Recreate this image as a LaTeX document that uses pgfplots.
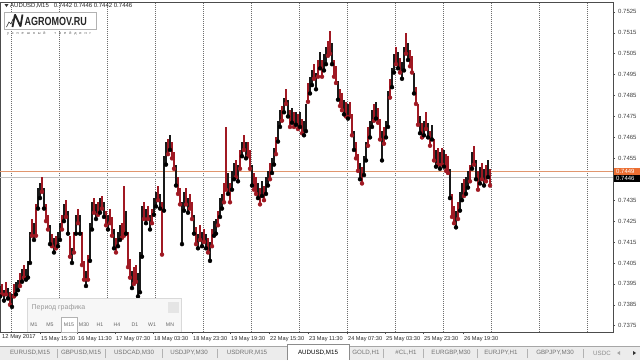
\documentclass[border=0pt]{standalone}
\usepackage{pgfplots}
\pgfplotsset{compat=1.18}
\usepackage{pgfplotstable}
\usepackage{fontspec}
\setmainfont{Liberation Sans}
\definecolor{candlered}{RGB}{160,25,35}
\definecolor{lineorange}{RGB}{225,150,110}
\definecolor{boxorange}{RGB}{235,110,50}
\definecolor{gridgray}{RGB}{110,110,110}
\definecolor{tabbg}{RGB}{236,236,236}

\pgfplotstableread{
x lo hi u
0 0.7389 0.7394 1
2 0.7390 0.7395 0
4 0.7387 0.7392 1
6 0.7390 0.7396 0
8 0.7388 0.7393 1
10 0.7385 0.7391 0
12 0.7384 0.7390 1
14 0.7389 0.7395 0
16 0.7390 0.7396 1
18 0.7392 0.7397 1
20 0.7394 0.7400 0
22 0.7396 0.7402 1
24 0.7398 0.7404 0
26 0.7397 0.7402 1
28 0.7398 0.7406 1
30 0.7405 0.7420 1
32 0.7418 0.7426 0
34 0.7416 0.7424 1
36 0.7418 0.7433 0
38 0.7431 0.7441 1
40 0.7436 0.7443 1
42 0.7439 0.7446 0
44 0.7431 0.7441 1
46 0.7425 0.7433 0
48 0.7421 0.7428 0
50 0.7414 0.7423 1
52 0.7413 0.7419 0
54 0.7410 0.7417 1
56 0.7412 0.7418 0
58 0.7413 0.7420 1
60 0.7416 0.7424 1
62 0.7421 0.7428 0
64 0.7425 0.7433 1
66 0.7427 0.7435 0
68 0.7419 0.7430 1
70 0.7408 0.7418 0
72 0.7405 0.7412 1
74 0.7410 0.7420 0
76 0.7419 0.7428 1
78 0.7424 0.7431 0
80 0.7419 0.7428 1
82 0.7404 0.7420 0
84 0.7397 0.7406 0
86 0.7394 0.7401 1
88 0.7397 0.7409 0
90 0.7406 0.7424 1
92 0.7421 0.7434 1
94 0.7429 0.7436 0
96 0.7426 0.7433 1
98 0.7428 0.7434 0
100 0.7429 0.7436 1
102 0.7431 0.7437 0
104 0.7427 0.7434 1
106 0.7423 0.7430 0
108 0.7421 0.7428 1
110 0.7424 0.7431 0
112 0.7418 0.7427 0
114 0.7412 0.7421 1
116 0.7410 0.7417 0
118 0.7413 0.7420 1
120 0.7416 0.7423 1
122 0.7417 0.7424 0
124 0.7418 0.7442 0
126 0.7419 0.7430 1
128 0.7403 0.7420 0
130 0.7398 0.7407 0
132 0.7393 0.7401 1
134 0.7395 0.7403 0
136 0.7396 0.7404 0
138 0.7389 0.7400 1
140 0.7391 0.7410 1
142 0.7408 0.7432 1
144 0.7426 0.7434 0
146 0.7424 0.7431 1
148 0.7426 0.7432 0
150 0.7421 0.7428 1
152 0.7424 0.7431 0
154 0.7428 0.7436 1
156 0.7432 0.7439 1
158 0.7435 0.7442 0
160 0.7431 0.7438 1
162 0.7409 0.7434 0
164 0.7430 0.7456 1
166 0.7452 0.7463 1
168 0.7457 0.7464 0
170 0.7459 0.7466 1
172 0.7455 0.7463 0
174 0.7450 0.7458 0
176 0.7442 0.7452 1
178 0.7438 0.7446 0
180 0.7433 0.7441 0
182 0.7414 0.7434 1
184 0.7430 0.7439 1
186 0.7433 0.7441 0
188 0.7429 0.7436 1
190 0.7431 0.7438 0
192 0.7426 0.7434 0
194 0.7419 0.7428 1
196 0.7414 0.7422 0
198 0.7412 0.7419 1
200 0.7416 0.7423 0
202 0.7413 0.7420 1
204 0.7415 0.7421 0
206 0.7412 0.7419 1
208 0.7410 0.7417 0
210 0.7406 0.7415 1
212 0.7413 0.7421 0
214 0.7418 0.7425 1
216 0.7419 0.7426 1
218 0.7423 0.7430 0
220 0.7427 0.7436 1
222 0.7431 0.7438 1
224 0.7434 0.7443 0
226 0.7440 0.7470 0
228 0.7438 0.7448 1
230 0.7434 0.7443 0
232 0.7440 0.7449 1
234 0.7445 0.7453 1
236 0.7446 0.7454 0
238 0.7444 0.7452 1
240 0.7450 0.7459 0
242 0.7456 0.7463 1
244 0.7459 0.7466 0
246 0.7455 0.7463 1
248 0.7456 0.7463 0
250 0.7450 0.7459 0
252 0.7442 0.7452 1
254 0.7440 0.7448 0
256 0.7438 0.7446 0
258 0.7436 0.7443 1
260 0.7433 0.7441 0
262 0.7437 0.7444 1
264 0.7435 0.7442 0
266 0.7438 0.7446 1
268 0.7442 0.7449 1
270 0.7445 0.7453 0
272 0.7448 0.7455 1
274 0.7452 0.7460 1
276 0.7457 0.7465 0
278 0.7463 0.7473 1
280 0.7470 0.7478 1
282 0.7473 0.7480 0
284 0.7477 0.7484 1
286 0.7481 0.7488 0
288 0.7475 0.7483 1
290 0.7470 0.7478 0
292 0.7472 0.7479 1
294 0.7470 0.7477 0
296 0.7471 0.7477 1
298 0.7469 0.7476 0
300 0.7470 0.7477 1
302 0.7467 0.7474 0
304 0.7466 0.7473 1
306 0.7468 0.7481 1
308 0.7482 0.7491 0
310 0.7486 0.7494 1
312 0.7490 0.7497 1
314 0.7493 0.7500 0
316 0.7488 0.7496 1
318 0.7494 0.7502 0
320 0.7498 0.7506 1
322 0.7494 0.7502 0
324 0.7497 0.7505 1
326 0.7500 0.7508 1
328 0.7504 0.7511 0
330 0.7505 0.7516 0
332 0.7500 0.7510 1
334 0.7494 0.7502 0
336 0.7491 0.7499 0
338 0.7483 0.7492 1
340 0.7480 0.7488 0
342 0.7478 0.7486 0
344 0.7476 0.7483 1
346 0.7475 0.7482 0
348 0.7474 0.7481 1
350 0.7475 0.7482 0
352 0.7466 0.7476 0
354 0.7459 0.7468 1
356 0.7455 0.7463 0
358 0.7449 0.7457 0
360 0.7445 0.7453 1
362 0.7443 0.7451 0
364 0.7447 0.7456 1
366 0.7454 0.7463 1
368 0.7461 0.7470 0
370 0.7465 0.7473 1
372 0.7470 0.7478 1
374 0.7473 0.7481 0
376 0.7474 0.7482 1
378 0.7472 0.7479 0
380 0.7464 0.7474 0
382 0.7454 0.7468 1
384 0.7462 0.7470 0
386 0.7465 0.7473 1
388 0.7470 0.7487 1
390 0.7484 0.7493 0
392 0.7489 0.7498 1
394 0.7496 0.7505 1
396 0.7500 0.7508 0
398 0.7498 0.7506 1
400 0.7496 0.7503 0
402 0.7493 0.7501 1
404 0.7497 0.7508 1
406 0.7505 0.7515 0
408 0.7502 0.7510 1
410 0.7499 0.7507 0
412 0.7496 0.7504 0
414 0.7486 0.7496 1
416 0.7481 0.7489 0
418 0.7471 0.7481 0
420 0.7467 0.7475 1
422 0.7465 0.7472 0
424 0.7466 0.7473 1
426 0.7469 0.7477 0
428 0.7465 0.7472 1
430 0.7461 0.7468 0
432 0.7464 0.7471 1
434 0.7454 0.7464 0
436 0.7451 0.7459 1
438 0.7452 0.7460 0
440 0.7450 0.7458 1
442 0.7452 0.7460 0
444 0.7451 0.7459 1
446 0.7449 0.7457 0
448 0.7448 0.7456 0
450 0.7436 0.7450 1
452 0.7427 0.7438 0
454 0.7424 0.7432 0
456 0.7422 0.7430 1
458 0.7426 0.7434 0
460 0.7430 0.7439 1
462 0.7435 0.7443 1
464 0.7437 0.7445 0
466 0.7438 0.7446 1
468 0.7441 0.7449 1
470 0.7444 0.7452 0
472 0.7450 0.7458 1
474 0.7452 0.7461 0
476 0.7445 0.7454 1
478 0.7440 0.7449 0
480 0.7443 0.7451 1
482 0.7445 0.7453 0
484 0.7442 0.7450 1
486 0.7444 0.7452 0
488 0.7446 0.7454 1
490 0.7442 0.7450 0
}\candles

\begin{document}
\begin{tikzpicture}[x=1pt,y=1pt]
\useasboundingbox (0,0) rectangle (640,360);
\fill[white] (0,0) rectangle (640,360);
\begin{axis}[
  at={(0pt,358pt)}, anchor=north west, scale only axis,
  width=613pt, height=330pt,
  xmin=0, xmax=613, ymin=0.73720, ymax=0.75297,
  axis line style={draw=black!70, line width=0.5pt},
  tick align=outside, major tick length=2pt,
  tick style={black!70, line width=0.5pt},
  ytick={0.7375,0.7385,0.7395,0.7405,0.7415,0.7425,0.7435,0.7455,0.7465,0.7475,0.7485,0.7495,0.7505,0.7515,0.7525},
  yticklabels={0.7375,0.7385,0.7395,0.7405,0.7415,0.7425,0.7435,0.7455,0.7465,0.7475,0.7485,0.7495,0.7505,0.7515,0.7525},
  ytick pos=right, yticklabel pos=right,
  yticklabel style={anchor=west, inner sep=0pt, xshift=3pt, text=black!75, font=\fontsize{6}{6}\selectfont},
  xtick={40,77,115,153,192,230,269,308,347,385,423,463},
  xticklabels={15 May 15:30,16 May 11:30,17 May 07:30,18 May 03:30,18 May 23:30,19 May 19:30,22 May 15:30,23 May 11:30,24 May 07:30,25 May 03:30,25 May 23:30,26 May 19:30},
  xtick pos=left,
  xticklabel style={anchor=north west, inner sep=0pt, xshift=1pt, yshift=-2.5pt, text=black!85, font=\fontsize{5.6}{6}\selectfont},
  extra x ticks={11,59,107,155,203,251,299,347,395,443,491,539,587},
  extra x tick labels={},
  extra x tick style={grid=major, major tick length=0pt},
  major grid style={gridgray, line width=0.5pt, dash pattern=on 0.8pt off 1.2pt},
  clip=true,
]
\addplot[lineorange, line width=0.7pt, forget plot] coordinates {(0,0.7449) (613,0.7449)};
\addplot[black!25, line width=0.7pt, forget plot] coordinates {(0,0.7446) (613,0.7446)};
\addplot[candlered, only marks, mark=none, forget plot,
  restrict expr to domain={\thisrow{u}}{-0.5:0.5},
  error bars/.cd, y dir=plus, y explicit, error mark=none,
  error bar style={line width=1.9pt, candlered}]
  table[x=x, y=lo, y error expr=\thisrow{hi}-\thisrow{lo}] {\candles};
\addplot[black, only marks, mark=none, forget plot,
  restrict expr to domain={\thisrow{u}}{0.5:1.5},
  error bars/.cd, y dir=plus, y explicit, error mark=none,
  error bar style={line width=1.9pt, black!90}]
  table[x=x, y=lo, y error expr=\thisrow{hi}-\thisrow{lo}] {\candles};
\end{axis}
% first date label
\node[anchor=north west, inner sep=0pt, text=black!85, font=\fontsize{5.8}{6}\selectfont] at (2,25.5) {12 May 2017};
% bid / ask boxes
\fill[boxorange] (613.5,185.5) rectangle (640,192.5);
\node[anchor=west, inner sep=0pt, text=white, font=\fontsize{6}{6}\selectfont] at (616,189) {0.7449};
\fill[black] (613.5,178.5) rectangle (640,185.5);
\node[anchor=west, inner sep=0pt, text=white, font=\fontsize{6}{6}\selectfont] at (616,182) {0.7446};
% header
\fill[black!80] (4.5,356) -- (8.5,356) -- (6.5,353) -- cycle;
\node[anchor=west, inner sep=0pt, text=black!85, font=\fontsize{6}{6}\selectfont] at (10,354.3) {AUDUSD,M15\hspace{5pt}0.7442 0.7446 0.7442 0.7446};
% logo
\draw[black!30, fill=white] (4.5,330.5) rectangle (96,348);
\draw[black!85, line width=0.6pt] (6.5,333) -- (9,338) -- (11,336) -- (13,341);
\draw[black!85, line width=1.8pt, line join=miter, miter limit=2] (12.5,333) -- (15,345.5) -- (20.5,333.5) -- (22.5,345.5);
\node[anchor=west, inner sep=0pt, text=black!85, font=\bfseries\fontsize{9}{9}\selectfont, yscale=1.3] at (24.5,339) {AGROMOV.RU};
\node[inner sep=0pt, text=black!65, font=\fontsize{3.8}{4}\selectfont] at (49,326.5) {\makebox[84pt]{у\hfill с\hfill п\hfill е\hfill ш\hfill н\hfill ы\hfill й\hfill\hfill\hfill т\hfill р\hfill е\hfill й\hfill д\hfill и\hfill н\hfill г}};
% period panel
\fill[black!3] (27,28) rectangle (181,62);
\draw[black!15] (27,28) -- (27,62) -- (181,62) -- (181,28);
\node[anchor=west, inner sep=0pt, text=black!40, font=\fontsize{7}{7}\selectfont] at (31.5,52) {Период графика};
\fill[black!10] (168,47) rectangle (179,58);
\draw[black!30, fill=white] (61.5,28) rectangle (77,43);
\foreach \xx/\tt in {34/M1,50/M5,69/M15,84/M30,100/H1,117/H4,135/D1,152/W1,170/MN}
  \node[inner sep=0pt, text=black!60, font=\fontsize{5.2}{5}\selectfont] at (\xx,35.5) {\tt};
% tab bar
\fill[tabbg] (0,0) rectangle (640,13.5);
\draw[black!35, line width=0.5pt] (0,13.5) -- (287,13.5) (349,13.5) -- (640,13.5);
\fill[white] (287,0) rectangle (349,15.5);
\draw[black!45, line width=0.5pt] (287,0) -- (287,15.5) -- (349,15.5) -- (349,0);
\foreach \xx in {57,105,162,217,383,423,477,527,583}
  \draw[black!30, line width=0.5pt] (\xx,2) -- (\xx,11.5);
\foreach \xx/\tt in {30/EURUSD{,}M15,81/GBPUSD{,}M15,134/USDCAD{,}M30,189/USDJPY{,}M30,247/USDRUR{,}M15,366/GOLD{,}H1,406/\#CL{,}H1,451/EURGBP{,}M30,501/EURJPY{,}H1,555/GBPJPY{,}M30}
  \node[inner sep=0pt, text=black!55, font=\fontsize{6.2}{6}\selectfont] at (\xx,7) {\tt};
\node[inner sep=0pt, text=black, font=\fontsize{6.2}{6}\selectfont] at (318,7) {AUDUSD,M15};
\node[anchor=west, inner sep=0pt, text=black!45, font=\fontsize{6.2}{6}\selectfont] at (593,7) {USDC};
\fill[black!35] (620,5) -- (620,9) -- (617,7) -- cycle;
\fill[black!80] (633,5) -- (633,9) -- (636,7) -- cycle;
\end{tikzpicture}
\end{document}
